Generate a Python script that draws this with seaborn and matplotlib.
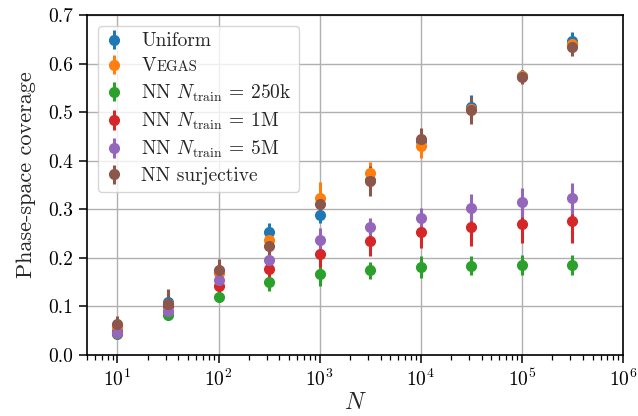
import numpy as np
import pandas as pd
import matplotlib
matplotlib.use("Agg")
import matplotlib.pyplot as plt
import seaborn as sns

# Number of sampled points per run
n_points = [10, 31.6, 100, 316, 1000, 3162, 10000, 31623, 100000, 316228]

# Mean phase-space coverage and its spread for each sampler
uniform_cov = [0.050, 0.110, 0.170, 0.253, 0.289, 0.360, 0.440, 0.510, 0.574, 0.646]
uniform_err = [0.010, 0.020, 0.015, 0.018, 0.018, 0.020, 0.020, 0.025, 0.012, 0.018]

vegas_cov = [0.058, 0.105, 0.169, 0.237, 0.324, 0.375, 0.430, 0.506, 0.575, 0.640]
vegas_err = [0.012, 0.020, 0.020, 0.015, 0.033, 0.022, 0.025, 0.020, 0.012, 0.010]

nn250k_cov = [0.043, 0.082, 0.119, 0.150, 0.166, 0.174, 0.181, 0.184, 0.185, 0.185]
nn250k_err = [0.008, 0.010, 0.010, 0.018, 0.024, 0.018, 0.022, 0.020, 0.020, 0.020]

nn1m_cov = [0.045, 0.100, 0.142, 0.178, 0.207, 0.235, 0.254, 0.264, 0.270, 0.275]
nn1m_err = [0.012, 0.018, 0.015, 0.018, 0.025, 0.031, 0.034, 0.040, 0.040, 0.044]

nn5m_cov = [0.045, 0.090, 0.154, 0.196, 0.237, 0.264, 0.283, 0.303, 0.314, 0.323]
nn5m_err = [0.010, 0.015, 0.018, 0.020, 0.025, 0.019, 0.020, 0.028, 0.030, 0.032]

surj_cov = [0.064, 0.106, 0.176, 0.224, 0.310, 0.358, 0.444, 0.504, 0.572, 0.635]
surj_err = [0.017, 0.030, 0.022, 0.020, 0.020, 0.031, 0.024, 0.028, 0.015, 0.019]

series_labels = [
    "Uniform",
    "V",
    r"NN $N_\mathrm{train}$ = 250k",
    r"NN $N_\mathrm{train}$ = 1M",
    r"NN $N_\mathrm{train}$ = 5M",
    "NN surjective",
]
series_cov = [uniform_cov, vegas_cov, nn250k_cov, nn1m_cov, nn5m_cov, surj_cov]
series_err = [uniform_err, vegas_err, nn250k_err, nn1m_err, nn5m_err, surj_err]

y_ticks = [0.0, 0.1, 0.2, 0.3, 0.4, 0.5, 0.6, 0.7]

rows = []
for lab, cov, err in zip(series_labels, series_cov, series_err):
    for n, c, e in zip(n_points, cov, err):
        rows.append({"method": lab, "N": n, "coverage": c, "err": e})
df = pd.DataFrame(rows)

sns.set_theme(style="whitegrid")
plt.rcParams.update({
    "font.family": ["cmr10", "DejaVu Serif"],
    "mathtext.fontset": "cm",
    "axes.formatter.use_mathtext": True,
    "axes.unicode_minus": False,
    "axes.edgecolor": "black",
    "axes.linewidth": 1.2,
    "grid.color": "#b0b0b0",
    "grid.linewidth": 1.0,
    "xtick.bottom": True,
    "ytick.left": True,
    "xtick.color": "black",
    "ytick.color": "black",
    "xtick.major.size": 6,
    "ytick.major.size": 6,
    "xtick.minor.size": 3.5,
    "xtick.major.width": 1.1,
    "ytick.major.width": 1.1,
    "xtick.minor.width": 0.9,
})

palette = sns.color_palette("tab10", len(series_labels))

fig = plt.figure(figsize=(6.38, 4.16), dpi=100)
ax = fig.add_axes([87 / 638, 1 - 355 / 416, (623 - 87) / 638, (355 - 15) / 416])

for lab, color in zip(series_labels, palette):
    sub = df[df["method"] == lab]
    ax.errorbar(sub["N"], sub["coverage"], yerr=sub["err"], fmt="o",
                color=color, markersize=7, elinewidth=2.2, capsize=0,
                label=lab)

ax.set_xscale("log")
ax.set_xlim(5, 1e6)
ax.set_ylim(0, 0.7)
ax.set_yticks(y_ticks)
ax.set_yticklabels([f"{t:.1f}" for t in y_ticks])
ax.tick_params(axis="both", labelsize=14, pad=4)
ax.grid(True, which="major")
ax.grid(False, which="minor")

ax.set_xlabel(r"$N$", fontsize=17, labelpad=1)
ax.set_ylabel("Phase-space coverage", fontsize=16)
ax.yaxis.set_label_coords(-0.095, 0.53)

leg = ax.legend(loc="upper left", fontsize=14, frameon=True, fancybox=True,
                framealpha=0.8, edgecolor="#cccccc", handlelength=1.0,
                handletextpad=0.9, labelspacing=0.36, borderpad=0.35,
                borderaxespad=0.55)

# small-caps tail of the VEGAS label
fig.canvas.draw()
vtext = leg.get_texts()[1]
ax.annotate("EGAS", xy=(1, 0), xycoords=vtext, xytext=(0.3, 0.8),
            textcoords="offset points", fontsize=10.6, va="bottom",
            ha="left", annotation_clip=False, zorder=10)

fig.savefig("out.png", dpi=100)
